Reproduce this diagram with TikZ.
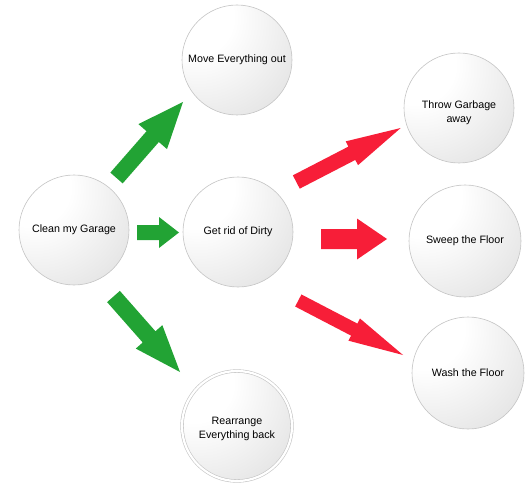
\documentclass[tikz,border=0pt]{standalone}
\usepackage{fontspec}
\setmainfont{Liberation Sans}
\usetikzlibrary{calc}
\definecolor{arrgreen}{HTML}{22A334}
\definecolor{arrred}{HTML}{F71E38}
\definecolor{ringgray}{HTML}{C4C4C4}
\pgfdeclareradialshading{sphereshade}{\pgfpoint{-24bp}{24bp}}{color(0bp)=(white); color(18bp)=(white); color(50bp)=(white!88!black); color(88bp)=(black!30); color(100bp)=(black!32)}
% block arrow: #1 tail coord, #2 tip coord, #3 shaft half width, #4 head half width, #5 head length, #6 colour
\newcommand\blockarr[6]{%
  \fill[#6] ($(#1)!#3!90:(#2)$) -- ($(#2)!#5!(#1)!#3!-90:(#1)$) -- ($(#2)!#5!(#1)!#4!-90:(#1)$) -- (#2)
    -- ($(#2)!#5!(#1)!#4!90:(#1)$) -- ($(#2)!#5!(#1)!#3!90:(#1)$) -- ($(#1)!#3!-90:(#2)$) -- cycle;}
\newcommand\twolines[3]{\raisebox{#3}[\height][\depth]{\begin{tabular}{@{}c@{}}#1\\#2\end{tabular}}}
\begin{document}
\begin{tikzpicture}[x=1pt,y=-1pt,
  ball/.style={circle, draw=ringgray, line width=0.6pt, shading=sphereshade, inner sep=0pt,
    font=\fontsize{10.7}{13.5}\selectfont, text=black},
  ballring/.style={ball, double=white, double distance=2.2pt, line width=0.6pt}]
\useasboundingbox (0,0) rectangle (526,494);
\node[ball, minimum size=110pt] (clean) at (74,230) {Clean my Garage};
\node[ball, minimum size=110pt] (move) at (237,60) {Move Everything out};
\node[ball, minimum size=110pt] (getrid) at (238,232) {Get rid of Dirty};
\node[ballring, minimum size=110pt] (rearr) at (237,426) {\twolines{Rearrange}{Everything back}{-3pt}};
\node[ball, minimum size=110pt] (throw) at (459,108) {\twolines{Throw Garbage}{away}{-5pt}};
\node[ball, minimum size=112pt] (sweep) at (465,241) {Sweep the Floor};
\node[ball, minimum size=112pt] (wash) at (468,373) {Wash the Floor};
% arrow end points
\coordinate (a1s) at ($(clean)+(42.5,-52)$);
\coordinate (a1e) at ($(move)+(-54,42)$);
\coordinate (a2s) at ($(clean)+(63,2.5)$);
\coordinate (a2e) at ($(getrid)+(-59,0.5)$);
\coordinate (a3s) at ($(clean)+(39.5,66.5)$);
\coordinate (a3e) at ($(rearr)+(-57,-54)$);
\coordinate (a4s) at ($(getrid)+(58.3,-50)$);
\coordinate (a4e) at ($(throw)+(-58.3,20)$);
\coordinate (a5s) at ($(getrid)+(83,7)$);
\coordinate (a5e) at ($(sweep)+(-78,-2)$);
\coordinate (a6s) at ($(getrid)+(60.3,68.5)$);
\coordinate (a6e) at ($(wash)+(-65,-18)$);
\blockarr{a1s}{a1e}{8.2pt}{19pt}{46pt}{arrgreen}
\blockarr{a2s}{a2e}{7.5pt}{15.5pt}{20pt}{arrgreen}
\blockarr{a3s}{a3e}{8.5pt}{17.7pt}{46.8pt}{arrgreen}
\blockarr{a4s}{a4e}{7.5pt}{13.4pt}{55pt}{arrred}
\blockarr{a5s}{a5e}{10pt}{20.5pt}{30pt}{arrred}
\blockarr{a6s}{a6e}{6.8pt}{12.5pt}{55pt}{arrred}
\end{tikzpicture}
\end{document}
